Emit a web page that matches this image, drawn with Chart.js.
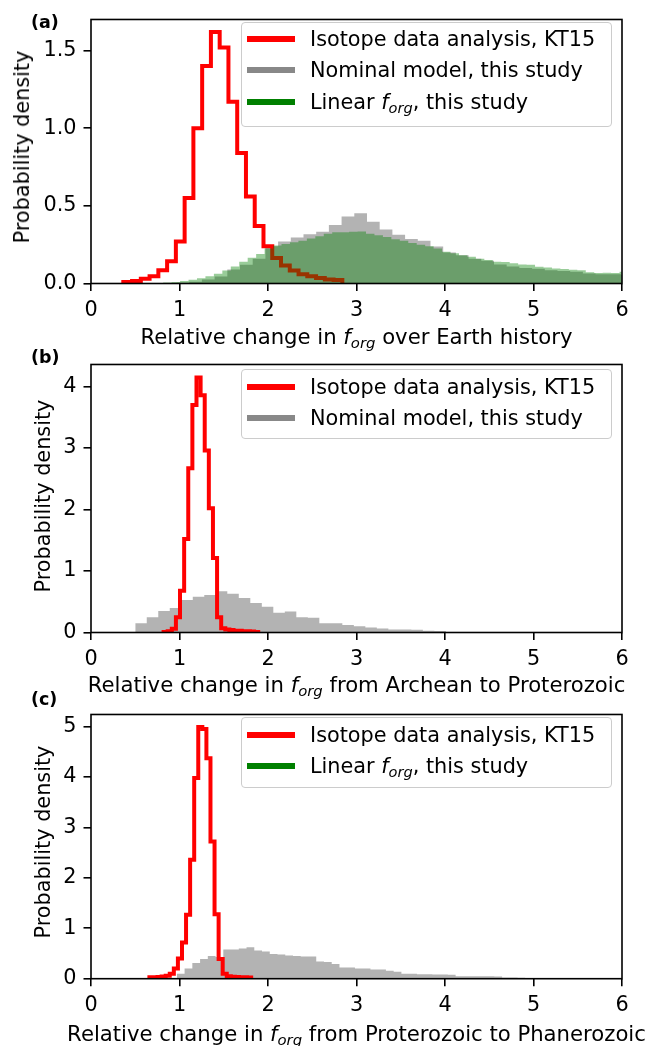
<!DOCTYPE html>
<html>
<head>
<meta charset="utf-8">
<script src="https://cdn.jsdelivr.net/npm/chart.js@4.4.0/dist/chart.umd.min.js"></script>
<style>
  body { margin: 0; background: #fff; font-family: 'DejaVu Sans'; color: #000; }
  #fig { position: relative; width: 651px; height: 1046px; overflow: hidden; }
  canvas { position: absolute; left: 0; }
  .tag { position: absolute; font-weight: bold; font-size: 17.5px; line-height: 20px; }
  .xlab { position: absolute; white-space: nowrap; font-size: 21.2px; line-height: 24px; transform: translateX(-50%); }
  .ylab { position: absolute; white-space: nowrap; font-size: 20.8px; line-height: 24px; transform: translate(-50%, -50%) rotate(-90deg); }
  .legend { position: absolute; left: 241px; width: 371px; border: 1px solid #ccc; border-radius: 4px;
            background: rgba(255, 255, 255, 0.8); box-sizing: border-box; }
  .swatch { position: absolute; left: 5px; width: 48px; height: 6px; }
  .ltext { position: absolute; left: 68px; font-size: 20.8px; line-height: 24px; white-space: nowrap; }
  sub { font-size: 70%; vertical-align: -0.3em; line-height: 0; }
</style>
</head>
<body>
<div id="fig">
  <canvas id="chartA" width="651" height="345" style="top:0px"></canvas>
  <canvas id="chartB" width="651" height="350" style="top:345px"></canvas>
  <canvas id="chartC" width="651" height="351" style="top:695px"></canvas>

  <div class="tag" style="left:31px;top:12px">(a)</div>
  <div class="tag" style="left:31px;top:347px">(b)</div>
  <div class="tag" style="left:31px;top:689px">(c)</div>

  <div class="ylab" style="left:22px;top:147px">Probability density</div>
  <div class="ylab" style="left:43px;top:496px">Probability density</div>
  <div class="ylab" style="left:43px;top:842px">Probability density</div>

  <div class="xlab" style="left:356.5px;top:325px">Relative change in <i>f</i><sub><i>org</i></sub> over Earth history</div>
  <div class="xlab" style="left:356.5px;top:672.5px">Relative change in <i>f</i><sub><i>org</i></sub> from Archean to Proterozoic</div>
  <div class="xlab" style="left:356.5px;top:1021.5px">Relative change in <i>f</i><sub><i>org</i></sub> from Proterozoic to Phanerozoic</div>

  <div class="legend" style="top:22px;height:105px">
    <div class="swatch" style="top:13px;background:#ff0000"></div>
    <div class="ltext" style="top:4px">Isotope data analysis, KT15</div>
    <div class="swatch" style="top:44px;background:#888888"></div>
    <div class="ltext" style="top:35px">Nominal model, this study</div>
    <div class="swatch" style="top:76px;background:#008000"></div>
    <div class="ltext" style="top:67px">Linear <i>f</i><sub><i>org</i></sub>, this study</div>
  </div>
  <div class="legend" style="top:369px;height:70px">
    <div class="swatch" style="top:14px;background:#ff0000"></div>
    <div class="ltext" style="top:5px">Isotope data analysis, KT15</div>
    <div class="swatch" style="top:45px;background:#888888"></div>
    <div class="ltext" style="top:36px">Nominal model, this study</div>
  </div>
  <div class="legend" style="top:717px;height:71px">
    <div class="swatch" style="top:14px;background:#ff0000"></div>
    <div class="ltext" style="top:5px">Isotope data analysis, KT15</div>
    <div class="swatch" style="top:45px;background:#008000"></div>
    <div class="ltext" style="top:36px">Linear <i>f</i><sub><i>org</i></sub>, this study</div>
  </div>
</div>

<script>
// ================= DATA =================
const xTicks = [0, 1, 2, 3, 4, 5, 6];

// (a) over Earth history
const aYTicks = [0, 0.5, 1.0, 1.5];
const aYMax = 1.70;
const aRedStart = 0.365, aRedWidth = 0.099;
const aRed = [0.010, 0.016, 0.030, 0.047, 0.085, 0.143, 0.27, 0.55, 1.00, 1.40, 1.62, 1.52, 1.17,
  0.84, 0.56, 0.37, 0.24, 0.164, 0.116, 0.084, 0.060, 0.047, 0.036, 0.026, 0.022];
const aGrayStart = 0.966, aGrayWidth = 0.1435;
const aGray = [0.005, 0.012, 0.025, 0.045, 0.09, 0.12, 0.16, 0.24, 0.27, 0.296, 0.317, 0.333, 0.376,
  0.432, 0.453, 0.397, 0.347, 0.314, 0.286, 0.276, 0.239, 0.199, 0.182, 0.159, 0.147, 0.122,
  0.11, 0.10, 0.095, 0.085, 0.08, 0.075, 0.065, 0.06, 0.06, 0.055];
const aGreenStart = 0.72, aGreenWidth = 0.0955;
const aGreen = [0.003, 0.006, 0.010, 0.016, 0.024, 0.033, 0.047, 0.062, 0.083, 0.11, 0.14, 0.165,
  0.19, 0.225, 0.245, 0.255, 0.265, 0.275, 0.29, 0.305, 0.32, 0.33, 0.33, 0.333, 0.335, 0.32,
  0.31, 0.30, 0.285, 0.275, 0.26, 0.25, 0.24, 0.225, 0.205, 0.195, 0.182, 0.172, 0.16, 0.152,
  0.14, 0.139, 0.13, 0.122, 0.12, 0.108, 0.103, 0.097, 0.093, 0.089, 0.085, 0.072, 0.068, 0.07,
  0.068, 0.075];

// (b) Archean to Proterozoic
const bYTicks = [0, 1, 2, 3, 4];
const bYMax = 4.36;
const bRedStart = 0.82, bRedWidth = 0.0465;
const bRed = [0.01, 0.02, 0.06, 0.25, 0.68, 1.52, 2.67, 3.70, 4.15, 3.86, 2.96, 2.02, 1.21, 0.25,
  0.07, 0.05, 0.04, 0.03, 0.03, 0.02, 0.02, 0.015, 0.01];
const bGrayStart = 0.5, bGrayWidth = 0.13;
const bGray = [0.15, 0.25, 0.35, 0.40, 0.53, 0.58, 0.61, 0.67, 0.63, 0.56, 0.48, 0.42, 0.32, 0.34,
  0.25, 0.24, 0.15, 0.15, 0.12, 0.10, 0.08, 0.065, 0.05, 0.05, 0.045, 0.03, 0.025, 0.01, 0.008,
  0.006, 0.005, 0.005, 0.004, 0.004, 0.003, 0.003, 0.002];

// (c) Proterozoic to Phanerozoic
const cYTicks = [0, 1, 2, 3, 4, 5];
const cYMax = 5.24;
const cRedStart = 0.66, cRedWidth = 0.046;
const cRed = [0.03, 0.03, 0.035, 0.045, 0.06, 0.10, 0.20, 0.40, 0.72, 1.27, 2.36, 3.98, 4.99,
  4.95, 4.37, 2.72, 1.28, 0.39, 0.10, 0.05, 0.04, 0.035, 0.03, 0.03, 0.025];
const cGrayStart = 0.97, cGrayWidth = 0.0875;
const cGray = [0.10, 0.20, 0.31, 0.39, 0.45, 0.43, 0.58, 0.58, 0.60, 0.625, 0.56, 0.54, 0.49,
  0.48, 0.46, 0.45, 0.44, 0.44, 0.34, 0.33, 0.29, 0.22, 0.22, 0.20, 0.20, 0.18, 0.18, 0.16,
  0.14, 0.10, 0.10, 0.09, 0.09, 0.085, 0.085, 0.08, 0.05, 0.05, 0.05, 0.05, 0.05, 0.045,
  0.025, 0.025, 0.02];

// ================= HELPERS =================
Chart.defaults.font.family = "'DejaVu Sans'";
Chart.defaults.font.size = 20.8;
Chart.defaults.color = '#000';

// histogram outline: corner points of every bin, starting and ending on zero
function outline(start, width, heights) {
  const pts = [{ x: start, y: 0 }];
  heights.forEach((h, i) => {
    pts.push({ x: start + i * width, y: h });
    pts.push({ x: start + (i + 1) * width, y: h });
  });
  pts.push({ x: start + heights.length * width, y: 0 });
  return pts;
}

function stepLine(pts, order) {
  return { data: pts, order: order, borderColor: '#ff0000', borderWidth: 4, fill: false,
    pointRadius: 0, tension: 0, borderJoinStyle: 'miter' };
}

function filledHist(pts, color, order) {
  return { data: pts, order: order, borderColor: 'transparent', borderWidth: 0,
    backgroundColor: color, fill: 'origin', pointRadius: 0, tension: 0 };
}

// box around the axes, like matplotlib spines
const frame = {
  id: 'frame',
  afterDatasetsDraw(chart) {
    const { ctx, chartArea: a } = chart;
    ctx.save();
    ctx.strokeStyle = '#000';
    ctx.lineWidth = 1.6;
    ctx.strokeRect(a.left, a.top, a.right - a.left, a.bottom - a.top);
    ctx.restore();
  }
};

function axisGrid() {
  return { display: true, drawOnChartArea: false, drawTicks: true, tickLength: 7.5,
    color: '#000', lineWidth: 1.6 };
}

function makeChart(id, datasets, yMax, yTicks, yFmt, padTop, xHeight) {
  return new Chart(document.getElementById(id), {
    type: 'line',
    data: { datasets: datasets },
    options: {
      animation: false,
      responsive: false,
      events: [],
      layout: { autoPadding: false, padding: { top: padTop, right: 29, bottom: 0, left: 0 } },
      plugins: { legend: { display: false }, tooltip: { enabled: false } },
      scales: {
        x: {
          type: 'linear', min: 0, max: 6,
          afterBuildTicks: s => { s.ticks = xTicks.map(v => ({ value: v })); },
          afterFit: s => { s.height = xHeight; },
          grid: axisGrid(),
          border: { display: false },
          ticks: { padding: 7, maxRotation: 0, autoSkip: false, callback: v => String(v) }
        },
        y: {
          type: 'linear', min: 0, max: yMax,
          afterBuildTicks: s => { s.ticks = yTicks.map(v => ({ value: v })); },
          afterFit: s => { s.width = 91; },
          grid: axisGrid(),
          border: { display: false },
          ticks: { padding: 7, autoSkip: false, callback: yFmt }
        }
      }
    },
    plugins: [frame]
  });
}

// ================= CHARTS =================
// (a): gray at the bottom, red line over it, translucent green on top
makeChart('chartA', [
  stepLine(outline(aRedStart, aRedWidth, aRed), 2),
  filledHist(outline(aGrayStart, aGrayWidth, aGray), 'rgba(128,128,128,0.6)', 3),
  filledHist(outline(aGreenStart, aGreenWidth, aGreen), 'rgba(0,128,0,0.4)', 1)
], aYMax, aYTicks, v => v.toFixed(1), 11.5, 61.5);

// (b)
makeChart('chartB', [
  stepLine(outline(bRedStart, bRedWidth, bRed), 0),
  filledHist(outline(bGrayStart, bGrayWidth, bGray), 'rgba(128,128,128,0.6)', 1)
], bYMax, bYTicks, v => String(v), 14, 62.5);

// (c)
makeChart('chartC', [
  stepLine(outline(cRedStart, cRedWidth, cRed), 0),
  filledHist(outline(cGrayStart, cGrayWidth, cGray), 'rgba(128,128,128,0.6)', 1)
], cYMax, cYTicks, v => String(v), 10.7, 67.3);
</script>
</body>
</html>
